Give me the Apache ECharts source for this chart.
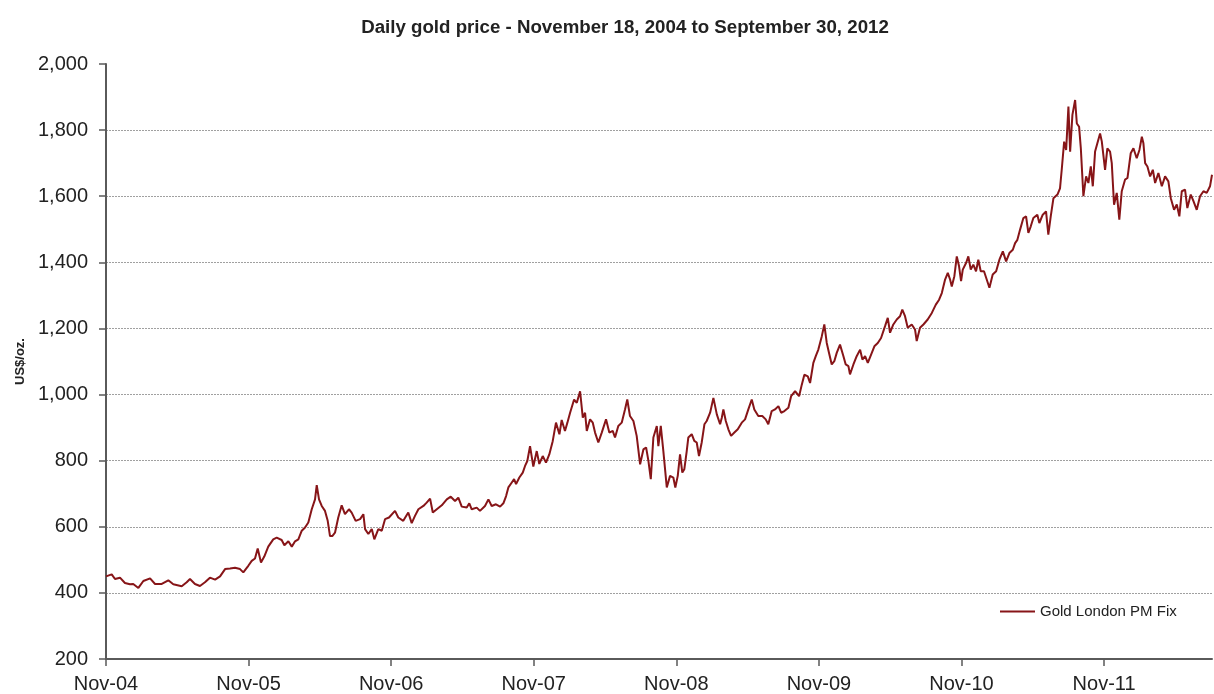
<!DOCTYPE html>
<html>
<head>
<meta charset="utf-8">
<script src="https://cdn.jsdelivr.net/npm/echarts@6/dist/echarts.min.js"></script>
<style>
html,body{margin:0;padding:0;background:#fff;}
#chart{width:1214px;height:694px;}
</style>
</head>
<body>
<div id="chart"></div>
<script>
const chartTitle = 'Daily gold price - November 18, 2004 to September 30, 2012';
const yAxisName = 'US$/oz.';
const seriesName = 'Gold London PM Fix';
const xTickLabels = ['Nov-04','Nov-05','Nov-06','Nov-07','Nov-08','Nov-09','Nov-10','Nov-11'];
// time in years since Nov 18, 2004
const yearsSinceStart = [
0.000,0.040,0.063,0.098,0.133,0.168,0.191,0.227,0.262,0.309,0.344,0.391,0.437,0.472,0.531,0.566,0.589,0.624,0.659,0.694,0.729,0.765,0.800,0.835,0.870,0.905,0.940,0.963,
0.998,1.022,1.045,1.064,1.087,1.110,1.138,1.173,1.197,1.209,1.232,1.251,1.279,1.303,1.326,1.349,1.373,1.396,1.419,1.443,1.466,1.478,1.494,1.513,1.536,1.555,1.571,1.587,1.606,1.629,1.653,1.676,1.704,1.723,1.751,1.782,1.805,1.817,1.840,1.864,1.882,1.910,1.934,1.957,1.985,
2.027,2.050,2.085,2.120,2.144,2.167,2.191,2.226,2.249,2.273,2.292,2.320,2.355,2.390,2.418,2.448,2.471,2.495,2.530,2.548,2.565,2.600,2.623,2.658,2.682,2.705,2.735,2.764,2.787,2.806,2.822,2.846,2.862,2.876,2.899,2.923,2.939,2.955,2.974,
2.997,3.021,3.039,3.063,3.086,3.109,3.133,3.156,3.180,3.196,3.219,3.236,3.255,3.283,3.302,3.325,3.344,3.360,3.372,3.395,3.414,3.430,3.453,3.477,3.507,3.530,3.554,3.570,3.593,3.617,3.640,3.656,3.675,3.699,3.722,3.746,3.769,3.788,3.804,3.821,3.839,3.863,3.874,3.891,3.909,3.933,3.956,3.979,3.993,
4.010,4.026,4.042,4.056,4.073,4.084,4.108,4.126,4.143,4.159,4.178,4.197,4.213,4.237,4.260,4.284,4.307,4.319,4.330,4.347,4.365,4.384,4.407,4.431,4.459,4.482,4.505,4.529,4.547,4.575,4.603,4.627,4.645,4.669,4.692,4.716,4.735,4.758,4.786,4.805,4.833,4.861,4.880,4.898,4.922,4.938,4.961,4.978,
4.996,5.020,5.038,5.055,5.071,5.090,5.108,5.125,5.148,5.172,5.188,5.207,5.218,5.242,5.265,5.289,5.305,5.324,5.343,5.366,5.389,5.413,5.436,5.464,5.483,5.499,5.522,5.546,5.569,5.585,5.604,5.623,5.651,5.674,5.686,5.709,5.733,5.763,5.792,5.820,5.843,5.862,5.885,5.904,5.920,5.932,5.950,5.967,5.983,
5.997,6.009,6.032,6.048,6.065,6.083,6.102,6.118,6.135,6.158,6.177,6.196,6.219,6.243,6.266,6.290,6.313,6.336,6.360,6.376,6.392,6.411,6.434,6.453,6.469,6.486,6.504,6.532,6.546,6.570,6.593,6.609,6.626,6.645,6.673,6.691,6.703,6.720,6.734,6.750,6.762,6.778,6.797,6.809,6.825,6.837,6.855,6.874,6.890,6.907,6.921,6.937,6.953,6.972,
6.984,7.007,7.023,7.042,7.054,7.070,7.089,7.107,7.124,7.147,7.164,7.187,7.206,7.229,7.248,7.265,7.276,7.288,7.304,7.323,7.342,7.358,7.381,7.405,7.428,7.451,7.468,7.491,7.510,7.528,7.545,7.568,7.584,7.608,7.627,7.650,7.673,7.697,7.720,7.743,7.757
];
const goldPrice = [
450,456,442,446,430,426,427,415,436,444,427,427,438,426,420,432,442,427,421,432,446,440,450,472,474,476,472,462,
482,497,504,534,492,510,540,562,567,572,560,544,556,540,556,562,588,598,613,653,683,726,683,663,648,618,572,572,582,628,665,638,653,643,618,623,638,593,578,593,562,593,588,623,628,
648,628,618,643,611,633,653,663,673,685,643,653,665,683,691,678,688,661,658,671,653,658,648,663,683,663,668,661,671,693,719,734,744,729,749,764,784,799,844,
782,829,790,814,794,819,859,915,880,923,890,915,945,985,975,1010,930,945,890,925,915,885,855,885,925,885,890,870,905,915,955,985,935,920,875,789,834,840,800,744,870,905,844,905,829,719,754,749,719,
754,819,764,774,829,870,880,860,855,814,855,910,920,945,990,940,910,930,955,920,895,875,885,895,915,925,955,985,955,935,935,925,910,950,955,965,945,950,960,995,1010,995,1030,1060,1055,1035,1096,1116,
1136,1176,1212,1156,1126,1091,1101,1126,1151,1116,1091,1086,1061,1091,1116,1136,1106,1116,1096,1121,1146,1156,1171,1207,1232,1187,1212,1227,1237,1257,1237,1202,1212,1197,1162,1202,1212,1227,1247,1272,1287,1307,1348,1368,1348,1327,1358,1418,1388,
1343,1378,1398,1418,1378,1393,1373,1408,1373,1373,1348,1323,1363,1373,1408,1433,1403,1428,1438,1458,1468,1499,1534,1539,1489,1509,1534,1544,1519,1544,1554,1484,1539,1594,1605,1624,1680,1765,1740,1871,1735,1846,1891,1820,1810,1745,1600,1660,1640,1690,1630,1735,1760,1790,
1766,1680,1745,1735,1700,1574,1610,1529,1615,1650,1655,1730,1745,1715,1740,1780,1760,1700,1690,1660,1680,1640,1670,1630,1660,1645,1594,1559,1575,1539,1615,1620,1564,1605,1585,1559,1600,1615,1610,1630,1665
];

const seriesData = yearsSinceStart.map((t, i) => [t, goldPrice[i]]);
const xTickValues = xTickLabels.map((_, i) => i);
const FONT = '"Liberation Sans",Arial,Helvetica,sans-serif';

const chart = echarts.init(document.getElementById('chart'), null, {renderer: 'canvas'});
chart.setOption({
  animation: false,
  backgroundColor: '#ffffff',
  title: {
    text: chartTitle,
    left: 620, top: 13, textAlign: 'center',
    textStyle: {fontFamily: FONT, fontWeight: 'bold', fontSize: 18.7, color: '#222222'}
  },
  legend: {
    data: [seriesName],
    left: 995, top: 599,
    icon: 'rect', itemWidth: 35, itemHeight: 2,
    textStyle: {fontFamily: FONT, fontSize: 15, color: '#222222'}
  },
  grid: {left: 106, right: 2, top: 64, bottom: 34, containLabel: false},
  xAxis: {
    type: 'value', min: 0, max: 7.757, interval: 1,
    axisLine: {show: true, lineStyle: {color: '#5a5a5a', width: 2}},
    axisTick: {show: true, length: 7, inside: false, customValues: xTickValues, lineStyle: {color: '#5a5a5a', width: 1.5}},
    axisLabel: {customValues: xTickValues, formatter: v => xTickLabels[Math.round(v)] || '', fontFamily: FONT, fontSize: 20, color: '#222222', margin: 15},
    splitLine: {show: false}
  },
  yAxis: {
    type: 'value', min: 200, max: 2000, interval: 200,
    name: yAxisName, nameLocation: 'middle', nameGap: 79, nameRotate: 90,
    nameTextStyle: {fontFamily: FONT, fontWeight: 'bold', fontSize: 13, color: '#222222'},
    axisLine: {show: true, lineStyle: {color: '#5a5a5a', width: 2}},
    axisTick: {show: true, length: 7, inside: false, lineStyle: {color: '#5a5a5a', width: 1.5}},
    axisLabel: {formatter: v => v.toLocaleString('en-US'), fontFamily: FONT, fontSize: 20, color: '#222222', margin: 18},
    splitLine: {show: true, lineStyle: {color: ['transparent','#a0a0a0','#a0a0a0','#a0a0a0','#a0a0a0','#a0a0a0','#a0a0a0','#a0a0a0','#a0a0a0','transparent'], type: [2,1], width: 1}}
  },
  series: [{
    name: seriesName, type: 'line', data: seriesData,
    showSymbol: false, symbol: 'none',
    lineStyle: {color: '#871518', width: 2},
    itemStyle: {color: '#871518'}
  }]
});
</script>
</body>
</html>
